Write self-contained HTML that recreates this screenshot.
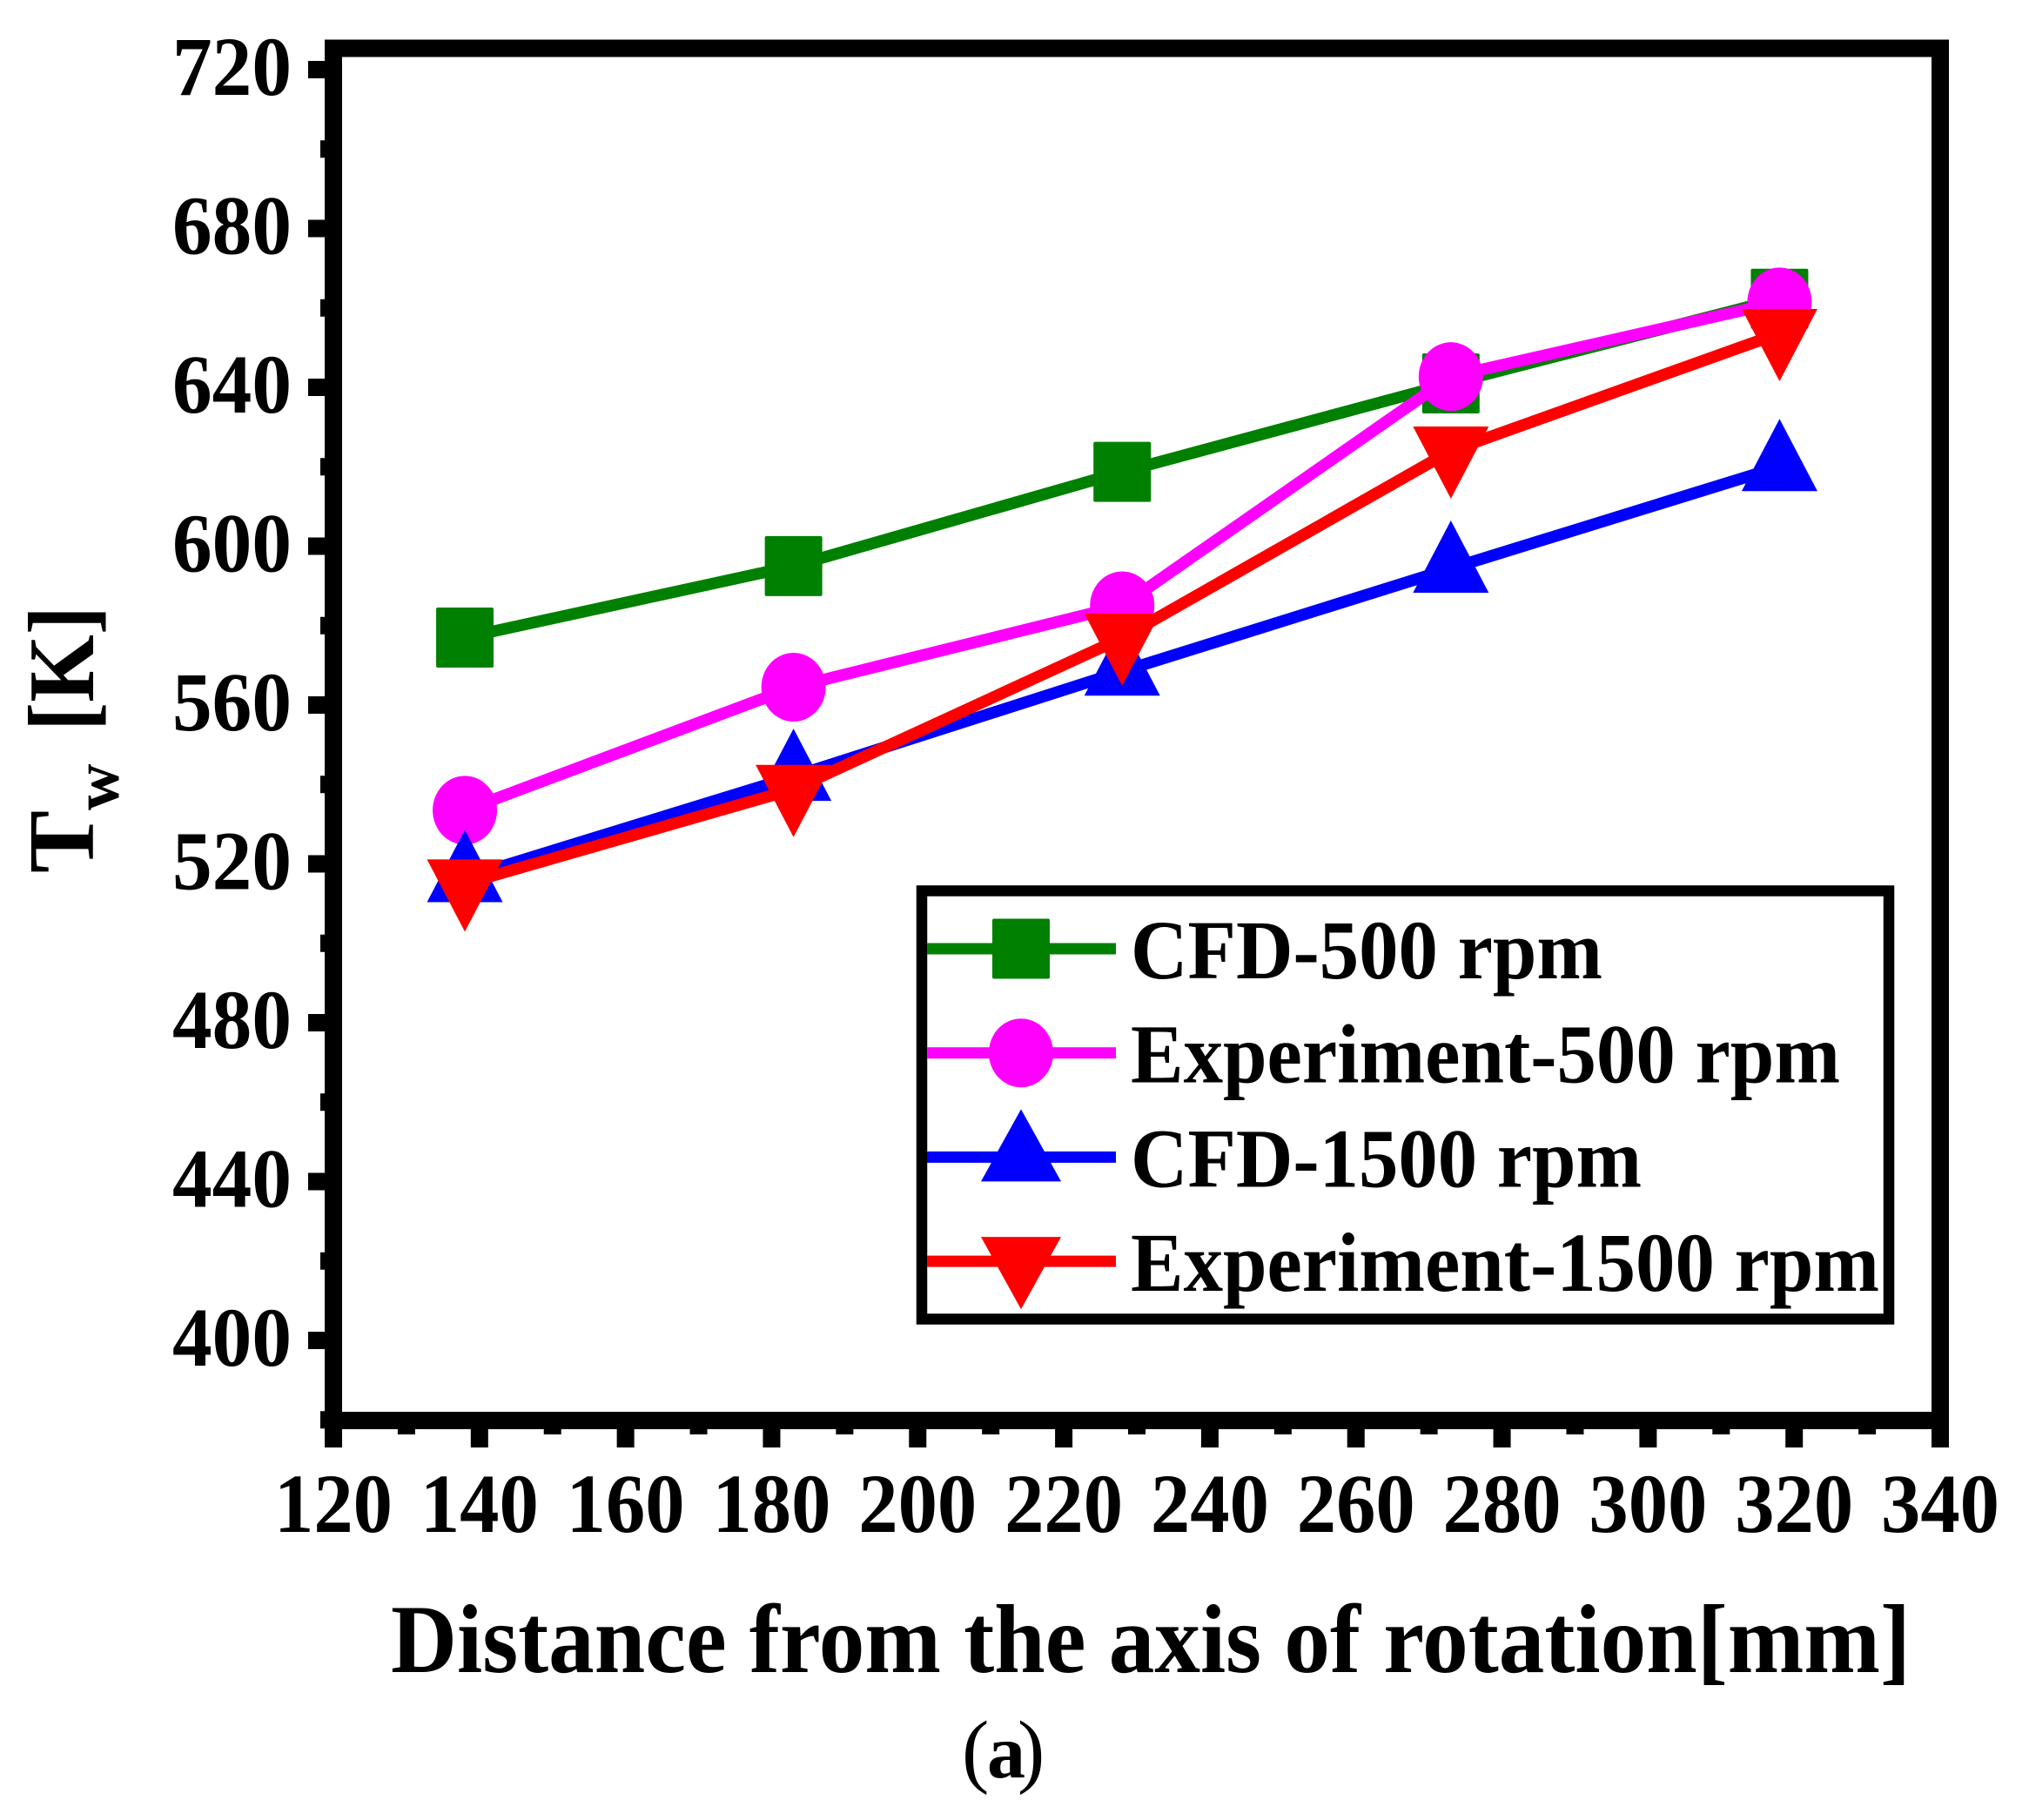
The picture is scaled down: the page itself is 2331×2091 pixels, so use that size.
<!DOCTYPE html>
<html>
<head>
<meta charset="utf-8">
<title>Wall temperature vs distance from the axis of rotation</title>
<style>
html,body{margin:0;padding:0;background:#fff;width:2331px;height:2091px;overflow:hidden}
svg{display:block}
text{font-family:"Liberation Serif",serif;font-weight:bold;fill:#000}
</style>
</head>
<body>
<svg id="chart" xmlns="http://www.w3.org/2000/svg" width="2331" height="2091" viewBox="0 0 2331 2091"></svg>
<script>
const xCategories = [138, 183, 228, 273, 318];
const cfd500 = [577, 595, 618.7, 641, 662.3];
const exp500 = [533.5, 564.5, 585, 642.7, 661.5];
const cfd1500 = [516.5, 542, 568.5, 594.4, 620];
const exp1500 = [515, 538.8, 576.9, 624, 653.6];
const xTickLabels = [120, 140, 160, 180, 200, 220, 240, 260, 280, 300, 320, 340];
const xMinorTicks = [130, 150, 170, 190, 210, 230, 250, 270, 290, 310, 330];
const yTickLabels = [400, 440, 480, 520, 560, 600, 640, 680, 720];
const yMinorTicks = [380, 420, 460, 500, 540, 580, 620, 660, 700];
const seriesNames = ['CFD-500 rpm', 'Experiment-500 rpm', 'CFD-1500 rpm', 'Experiment-1500 rpm'];

const NS = 'http://www.w3.org/2000/svg';
const svg = document.getElementById('chart');
function xs(v) { return 383 + (v - 120) * 8.391; }
function ys(v) { return 80 + (720 - v) * 4.5625; }
function make(tag, attrs, text) {
  const el = document.createElementNS(NS, tag);
  for (const k in attrs) el.setAttribute(k, attrs[k]);
  if (text !== undefined) el.textContent = text;
  svg.appendChild(el);
  return el;
}
function markerEl(shape, cx, cy, color, big) {
  let el;
  if (shape === 'square') {
    el = make('rect', { x: cx - 33, y: cy - 34.5, width: 66, height: 69, rx: 2, fill: color });
  } else if (shape === 'circle') {
    el = make('ellipse', { cx: cx, cy: cy, rx: 37, ry: 39.5, fill: color });
  } else if (shape === 'up') {
    const h = big ? 46 : 43.5;
    el = make('path', { d: 'M' + cx + ' ' + (cy - 55) + 'L' + (cx + h) + ' ' + (cy + 28) + 'L' + (cx - h) + ' ' + (cy + 28) + 'Z', fill: color });
  } else {
    const h = big ? 46 : 43.5;
    el = make('path', { d: 'M' + cx + ' ' + (cy + 55) + 'L' + (cx + h) + ' ' + (cy - 28) + 'L' + (cx - h) + ' ' + (cy - 28) + 'Z', fill: color });
  }
  return el;
}

/* frame */
let frame = make('rect', { x: 383, y: 55.5, width: 1846, height: 1576.5, fill: 'none', stroke: '#000', 'stroke-width': 20 });



/* y ticks */
yTickLabels.forEach(function (v) {
  const t = make('rect', { x: 354, y: ys(v) - 10, width: 20, height: 20, fill: '#000' });
  
  
  const l = make('text', { x: 198, y: ys(v) + 29, 'font-size': 96, textLength: 137, lengthAdjust: 'spacingAndGlyphs' }, String(v));
  
  
});
yMinorTicks.forEach(function (v) {
  const t = make('rect', { x: 368, y: ys(v) - 10, width: 6, height: 20, fill: '#000' });
  
  
});

/* x ticks */
xTickLabels.forEach(function (v) {
  const t = make('rect', { x: xs(v) - 10, y: 1640, width: 20, height: 23, fill: '#000' });
  
  
  const l = make('text', { x: xs(v) - 68, y: 1760, 'font-size': 96, textLength: 136, lengthAdjust: 'spacingAndGlyphs' }, String(v));
  
  
});
xMinorTicks.forEach(function (v) {
  const t = make('rect', { x: xs(v) - 10, y: 1640, width: 20, height: 8, fill: '#000' });
  
  
});

/* series */
function drawSeries(values, color, shape, name) {
  const pts = values.map(function (v, i) { return xs(xCategories[i]) + ',' + ys(v); }).join(' ');
  const line = make('polyline', { points: pts, fill: 'none', stroke: color, 'stroke-width': 13.5 });
  
  
  values.forEach(function (v, i) {
    const m = markerEl(shape, xs(xCategories[i]), ys(v), color, false);
    
    
  });
}
drawSeries(cfd500, '#008000', 'square', 'cfd-500');
drawSeries(exp500, '#ff00ff', 'circle', 'experiment-500');
drawSeries(cfd1500, '#0000ff', 'up', 'cfd-1500');
drawSeries(exp1500, '#ff0000', 'down', 'experiment-1500');

/* axis titles */
let xTitle = make('text', { x: 449, y: 1921, 'font-size': 112, textLength: 1746, lengthAdjust: 'spacingAndGlyphs' }, 'Distance from the axis of rotation[mm]');



let yT = make('text', { transform: 'translate(107,1003) rotate(-90)', 'font-size': 108 }, 'T');


let yW = make('text', { transform: 'translate(136,931) rotate(-90)', 'font-size': 74 }, 'w');


let yK = make('text', { transform: 'translate(107,840) rotate(-90)', 'font-size': 108, textLength: 144, lengthAdjust: 'spacingAndGlyphs' }, '[K]');



/* legend */
let box = make('rect', { x: 1059, y: 1023.5, width: 1111, height: 492, fill: '#fff', stroke: '#000', 'stroke-width': 12.5 });


const legendColors = ['#008000', '#ff00ff', '#0000ff', '#ff0000'];
const legendShapes = ['square', 'circle', 'up', 'down'];
const legendWidths = [542, 815, 587, 860];
seriesNames.forEach(function (name, i) {
  const cy = 1090 + i * 119.7;
  const ln = make('rect', { x: 1065, y: cy - 6.5, width: 217, height: 13, fill: legendColors[i] });
  
  
  const m = markerEl(legendShapes[i], 1173, cy, legendColors[i], true);
  
  
  const t = make('text', { x: 1299, y: cy + 34, 'font-size': 96, textLength: legendWidths[i], lengthAdjust: 'spacingAndGlyphs' }, name);
  
  
});

/* panel caption */
let capL = make('text', { x: 1105, y: 2042, 'font-size': 94, style: 'font-weight:normal' }, '(');


let capA = make('text', { x: 1134, y: 2042, 'font-size': 88 }, 'a');


let capR = make('text', { x: 1169, y: 2042, 'font-size': 94, style: 'font-weight:normal' }, ')');


</script>
</body>
</html>
